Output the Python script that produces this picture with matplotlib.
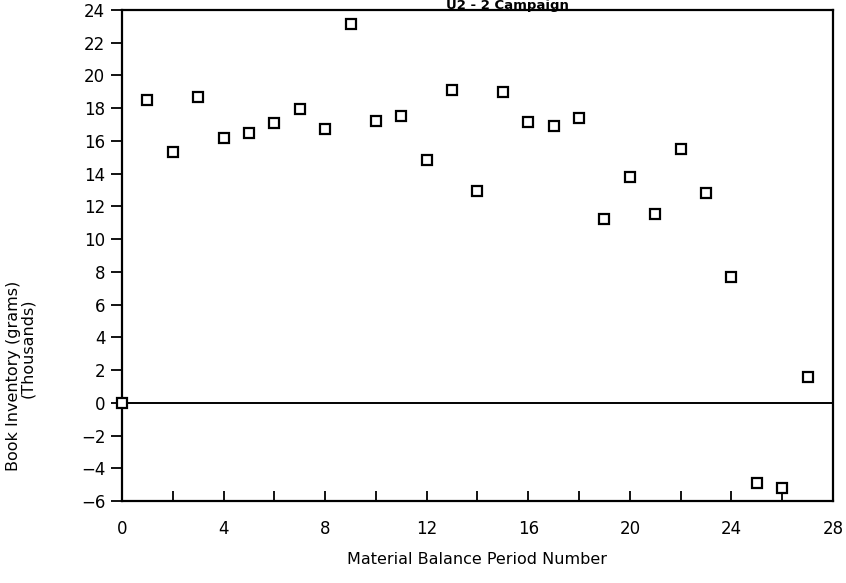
import matplotlib
matplotlib.use("Agg")
import matplotlib.pyplot as plt
from matplotlib.ticker import MultipleLocator

# material balance periods and book inventory (thousands of grams)
periods = list(range(0, 28))
inventory = [0.0, 18.5, 15.3, 18.7, 16.2, 16.5, 17.1, 17.95, 16.7, 23.15,
             17.2, 17.55, 14.85, 19.1, 12.95, 19.0, 17.15, 16.9, 17.4, 11.25,
             13.8, 11.55, 15.5, 12.8, 7.7, -4.9, -5.2, 1.6]

x_ticks = [0, 4, 8, 12, 16, 20, 24, 28]
y_ticks = list(range(-6, 25, 2))

plt.rcParams['font.family'] = ['DejaVu Sans']

fig = plt.figure(figsize=(8.46, 5.83), dpi=100)
ax = fig.add_axes([0.1442, 0.1407, 0.8404, 0.8421])

ax.plot(periods, inventory, linestyle='none', marker='s', markersize=7,
        markerfacecolor='white', markeredgecolor='black', markeredgewidth=1.6,
        zorder=5, clip_on=False)
ax.axhline(0, color='black', linewidth=1.4, zorder=3)

ax.set_xlim(0, 28)
ax.set_ylim(-6, 24)
ax.set_xticks(x_ticks)
ax.xaxis.set_minor_locator(MultipleLocator(2))
ax.set_yticks(y_ticks)
ax.set_yticklabels([f'{v}' if v >= 0 else f'\u2212{-v}' for v in y_ticks])

ax.tick_params(axis='x', which='both', direction='in', length=7, width=1.3,
               labelsize=12, pad=14)
ax.tick_params(axis='y', which='major', direction='out', length=8, width=1.3,
               labelsize=12, pad=4)
for side in ['left', 'right', 'top', 'bottom']:
    ax.spines[side].set_linewidth(1.6)

ax.set_xlabel('Material Balance Period Number', fontsize=11.5, labelpad=10)

# two-line y label, second line sits under the unit part
fig.text(0.016, 0.355, 'Book Inventory (grams)', rotation=90,
         fontsize=11.5, ha='center', va='center')
fig.text(0.033, 0.403, '(Thousands)', rotation=90,
         fontsize=11.5, ha='center', va='center')

# campaign title squeezed into the strip above the frame
fig.text(0.60, 1 - 9.5 / 583, 'U2 - 2 Campaign', fontsize=9.5, ha='center',
         va='baseline', fontweight='bold')

fig.savefig('out.png', dpi=100)
